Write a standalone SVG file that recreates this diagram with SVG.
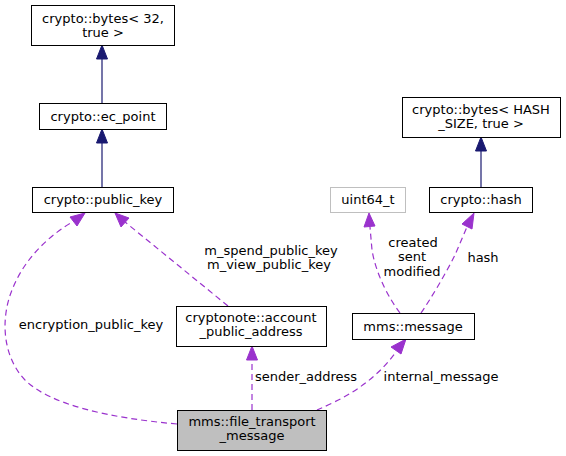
<svg xmlns="http://www.w3.org/2000/svg" width="566" height="456" viewBox="0 0 566 456">
<style>
text{font-family:"DejaVu Sans",sans-serif;font-size:13px;fill:#000;text-anchor:middle}
.n{fill:#fff;stroke:#000;stroke-width:1}
.g{fill:#fff;stroke:#bfbfbf;stroke-width:1}
.f{fill:#bfbfbf;stroke:#000;stroke-width:1}
.inh{fill:none;stroke:#191970;stroke-width:1.2}
.use{fill:none;stroke:#9a32cd;stroke-width:1.2;stroke-dasharray:6,4}
.ah1{fill:#191970;stroke:#191970}
.ah2{fill:#9a32cd;stroke:#9a32cd}
</style>
<rect width="566" height="456" fill="#fff"/>
<g id="edges">
<path class="inh" d="M102,103 L102,58"/>
<polygon class="ah1" points="102,45 96.5,59 107.5,59"/>
<path class="inh" d="M102,187 L102,142"/>
<polygon class="ah1" points="102,129 96.5,143 107.5,143"/>
<path class="inh" d="M481,187 L481,150"/>
<polygon class="ah1" points="481,137 475.5,151 486.5,151"/>
<path class="use" d="M177,424 C110,418 50,405 25,380 C3,357 0,320 12,290 C25,257 50,235 74,221"/>
<polygon class="ah2" points="85,213 77,226 70,217"/>
<text x="91" y="329">encryption_public_key</text>
<path class="use" d="M228,306 L125,222"/>
<polygon class="ah2" points="115,213 129,218 121,227"/>
<text x="271" y="255">m_spend_public_key</text>
<text x="269" y="269">m_view_public_key</text>
<path class="use" d="M252,410 L252,359"/>
<polygon class="ah2" points="252,346 246.5,360 257.5,360"/>
<text x="306" y="381">sender_address</text>
<path class="use" d="M317,410 C340,400 372,385 396,352"/>
<polygon class="ah2" points="406,339 401,354 391,347"/>
<text x="441" y="381">internal_message</text>
<path class="use" d="M400,313 C390,300 376,275 372,250 L370,227"/>
<polygon class="ah2" points="369,213 364,227 375,226"/>
<text x="413" y="247">created</text>
<text x="412" y="261">sent</text>
<text x="412" y="276">modified</text>
<path class="use" d="M421,313 C430,300 445,275 455,255 L467,227"/>
<polygon class="ah2" points="474,213 472,229 462,224"/>
<text x="483" y="262">hash</text>
</g>
<g id="bytes32">
<rect class="n" x="31.5" y="5.5" width="143" height="40"/>
<text x="103" y="23">crypto::bytes&lt; 32,</text>
<text x="103" y="37">true &gt;</text>
</g>
<g id="ec_point">
<rect class="n" x="39.5" y="103.5" width="127" height="26"/>
<text x="103" y="121">crypto::ec_point</text>
</g>
<g id="public_key">
<rect class="n" x="32.5" y="187.5" width="141" height="25"/>
<text x="103" y="204">crypto::public_key</text>
</g>
<g id="account_public_address">
<rect class="n" x="176.5" y="306.5" width="150" height="40"/>
<text x="251" y="322">cryptonote::account</text>
<text x="251" y="336">_public_address</text>
</g>
<g id="file_transport_message">
<rect class="f" x="177.5" y="410.5" width="149" height="40"/>
<text x="252" y="426">mms::file_transport</text>
<text x="252" y="440">_message</text>
</g>
<g id="message">
<rect class="n" x="352.5" y="313.5" width="122" height="26"/>
<text x="413" y="331">mms::message</text>
</g>
<g id="uint64_t">
<rect class="g" x="330.5" y="187.5" width="75" height="25"/>
<text x="368" y="204">uint64_t</text>
</g>
<g id="hash">
<rect class="n" x="429.5" y="187.5" width="103" height="25"/>
<text x="481" y="204">crypto::hash</text>
</g>
<g id="bytes_hash">
<rect class="n" x="402.5" y="97.5" width="158" height="40"/>
<text x="481" y="114">crypto::bytes&lt; HASH</text>
<text x="481" y="128">_SIZE, true &gt;</text>
</g>
</svg>
